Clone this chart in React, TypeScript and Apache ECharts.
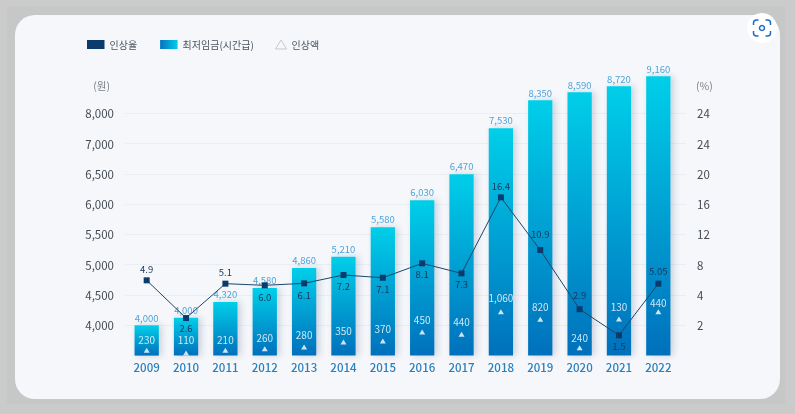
import React, { useEffect, useRef } from "react";
import * as echarts from "echarts";

const years = ["2009","2010","2011","2012","2013","2014","2015","2016","2017","2018","2019","2020","2021","2022"];
// Bar labels as printed, and bar tops read against the printed gridlines
const wageLabels = ["4,000","4,000","4,320","4,580","4,860","5,210","5,580","6,030","6,470","7,530","8,350","8,590","8,720","9,160"];
const wageHeights = [4000,4125,4384,4615,4944,5131,5620,6066,6495,7253,7715,7847,7946,8111];
// Line labels as printed, and points read against the right axis
const rateLabels = ["4.9","2.6","5.1","6.0","6.1","7.2","7.1","8.1","7.3","16.4","10.9","2.9","1.5","5.05"];
const ratePositions = [4.97,2.48,4.75,4.64,4.77,5.32,5.14,6.09,5.43,10.45,6.97,3.06,1.34,4.75];
// Raise amounts as printed, and marker heights
const raiseLabels = ["230","110","210","260","280","350","370","450","440","1,060","820","240","130","440"];
const raisePositions = [3587,3543,3587,3614,3642,3724,3741,3889,3851,4224,4099,3630,4104,4224];
const leftTicks = ["","4,000","4,500","5,000","5,500","6,000","6,500","7,000","8,000"];
const rightTicks = ["","2","4","8","12","16","20","24","24"];
const legendNames = ["인상율","최저임금(시간급)","인상액"];

// Label placement, separate from the data
const rateLabelSides = ["top","bottom","top","bottom","bottom","bottom","bottom","bottom","bottom","top","top","top","bottom","top"];
const rateLabelGaps = [4,2.5,3.5,3.5,3.5,3,3,3,3,4,8,7,3,5];
const raiseLabelGaps = [3,5.8,3,3.8,5.5,4.2,5.5,4.8,5.5,6.5,5.5,3,5.2,1.5];

const FONT = "'Noto Sans CJK KR','Noto Sans',sans-serif";

const iconPath =
  "M0 5V3Q0 0 3 0H5M12 0H14Q17 0 17 3V5M17 11V13Q17 16 14 16H12M5 16H3Q0 16 0 13V11";
echarts.graphic.registerShape("shotCorners", echarts.graphic.extendPath(iconPath, {}) as any);

export default function App() {
  const ref = useRef<HTMLDivElement>(null);
  useEffect(() => {
    const chart = echarts.init(ref.current!, undefined, { renderer: "svg" });
    const step = 30.29;
    const base = 355.6;
    const displayTop = base - 8 * step;
    const plotTop = base - 10 * step;
    const gridBottom = 414 - base;
    const legendText = { fontFamily: FONT, fontSize: 10, color: "#4b5560" };
    chart.setOption({
      animation: false,
      backgroundColor: "transparent",
      textStyle: { fontFamily: FONT },
      grid: [
        { left: 125, width: 561, top: displayTop, bottom: gridBottom },
        { left: 127, width: 551, top: plotTop, bottom: gridBottom },
      ],
      legend: [
        {
          left: 87, top: 39.5, padding: 0, itemWidth: 17.5, itemHeight: 9, itemGap: 23,
          textStyle: legendText, selectedMode: false,
          data: [
            { name: legendNames[0], icon: "rect", itemStyle: { color: "#0b3a6c" } },
            { name: legendNames[1], icon: "rect", itemStyle: { color: new echarts.graphic.LinearGradient(0, 0, 1, 0, [{ offset: 0, color: "#0672bd" }, { offset: 1, color: "#00cfe9" }]) } },
          ],
        },
        {
          left: 275, top: 39.5, padding: 0, itemWidth: 11, itemHeight: 9,
          textStyle: legendText, selectedMode: false,
          data: [
            { name: legendNames[2], icon: "path://M5.5 0L11 9H0Z", itemStyle: { color: "transparent", borderColor: "#b9bfc4", borderWidth: 1 } },
          ],
        },
      ],
      xAxis: [
        { type: "category", gridIndex: 0, data: years, show: false },
        {
          type: "category", gridIndex: 1, data: years,
          axisLine: { show: false }, axisTick: { show: false },
          axisLabel: { color: "#2b7fbd", fontSize: 11.5, fontWeight: 500, margin: 6 },
        },
      ],
      yAxis: [
        {
          type: "value", gridIndex: 0, position: "left", min: 3500, max: 7500, interval: 500,
          name: "(원)", nameLocation: "end", nameGap: 23,
          nameTextStyle: { color: "#7b8288", fontSize: 10.5, align: "right", padding: [0, 15, 0, 0] },
          axisLine: { show: false }, axisTick: { show: false },
          axisLabel: { color: "#444b52", fontSize: 11.5, margin: 11, formatter: (_: number, i: number) => leftTicks[i] ?? "" },
          splitLine: { show: true, showMinLine: false, lineStyle: { color: "#e8eef2", width: 1 } },
        },
        {
          type: "value", gridIndex: 0, position: "right", min: 0, max: 16, interval: 2,
          name: "(%)", nameLocation: "end", nameGap: 23,
          nameTextStyle: { color: "#7b8288", fontSize: 10.5, align: "left", padding: [0, 0, 0, 10] },
          axisLine: { show: false }, axisTick: { show: false },
          axisLabel: { color: "#444b52", fontSize: 11.5, margin: 11, formatter: (_: number, i: number) => rightTicks[i] ?? "" },
          splitLine: { show: false },
        },
        { type: "value", gridIndex: 1, position: "left", show: false, min: 3500, max: 8500, interval: 500, splitLine: { show: false } },
        { type: "value", gridIndex: 1, position: "right", show: false, min: 0, max: 20, interval: 2, splitLine: { show: false } },
      ],
      series: [
        {
          name: legendNames[1], type: "bar", xAxisIndex: 1, yAxisIndex: 2, data: wageHeights,
          barWidth: 24.3, z: 2,
          itemStyle: {
            color: new echarts.graphic.LinearGradient(0, 0, 0, 1, [{ offset: 0, color: "#00cfe9" }, { offset: 1, color: "#0070bc" }]),
            shadowBlur: 6, shadowOffsetX: 3, shadowOffsetY: 0, shadowColor: "rgba(50,80,120,0.22)",
          },
          label: {
            show: true, position: "top", distance: 3, fontSize: 9.5, color: "#4da3da",
            formatter: (p: any) => wageLabels[p.dataIndex],
          },
        },
        {
          name: legendNames[0], type: "line", xAxisIndex: 1, yAxisIndex: 3,
          data: ratePositions.map((v, i) => ({
            value: v,
            label: { position: rateLabelSides[i], distance: rateLabelGaps[i] },
          })),
          z: 4,
          symbol: "rect", symbolSize: 6, showAllSymbol: true,
          lineStyle: { color: "#1d4668", width: 1 },
          itemStyle: { color: "#0b3a6c" },
          label: {
            show: true, fontSize: 9.5, color: "#17365a",
            formatter: (p: any) => rateLabels[p.dataIndex],
          },
        },
        {
          name: legendNames[2], type: "scatter", xAxisIndex: 1, yAxisIndex: 2,
          data: raisePositions.map((v, i) => ({ value: v, label: { distance: raiseLabelGaps[i] } })),
          z: 3, symbol: "triangle", symbolSize: [6, 5],
          itemStyle: { color: "#ffffff" },
          label: {
            show: true, position: "top", fontSize: 10, color: "#ffffff",
            formatter: (p: any) => raiseLabels[p.dataIndex],
          },
        },
      ],
      graphic: [
        {
          type: "group", left: 747, top: 13, silent: true,
          children: [
            { type: "circle", shape: { cx: 15, cy: 15, r: 15 }, style: { fill: "#ffffff" } },
            { type: "shotCorners", x: 6.5, y: 7, style: { fill: "none", stroke: "#1b6fc2", lineWidth: 1.5 } },
            { type: "circle", shape: { cx: 15, cy: 15, r: 2.5 }, style: { fill: "none", stroke: "#1b6fc2", lineWidth: 1.5 } },
          ],
        },
      ],
    });
    return () => chart.dispose();
  }, []);
  return (
    <div style={{ position: "fixed", inset: 0, width: 795, height: 414, background: "#cbcbcb", overflow: "hidden" }}>
      <div style={{ position: "absolute", left: 7, top: 6, width: 778, height: 398, background: "#c6c8c8" }} />
      <div style={{ position: "absolute", left: 15, top: 15, width: 765, height: 384, background: "#f5f7fa", borderRadius: 20 }} />
      <div ref={ref} style={{ position: "absolute", left: 0, top: 0, width: 795, height: 414, filter: "blur(0.35px)" }} />
    </div>
  );
}
